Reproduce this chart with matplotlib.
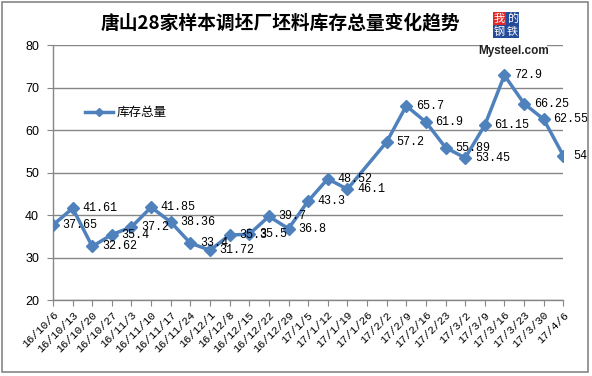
import numpy as np
import matplotlib.pyplot as plt
from matplotlib.patches import Rectangle

plt.rcParams['font.family'] = ['Noto Sans CJK SC', 'DejaVu Sans']

# data
dates = ['16/10/6', '16/10/13', '16/10/20', '16/10/27', '16/11/3', '16/11/10',
         '16/11/17', '16/11/24', '16/12/1', '16/12/8', '16/12/15', '16/12/22',
         '16/12/29', '17/1/5', '17/1/12', '17/1/19', '17/1/26', '17/2/2',
         '17/2/9', '17/2/16', '17/2/23', '17/3/2', '17/3/9', '17/3/16',
         '17/3/23', '17/3/30', '17/4/6']
stock = [37.65, 41.61, 32.62, 35.4, 37.2, 41.85, 38.36, 33.4, 31.72, 35.3,
         35.5, 39.7, 36.8, 43.3, 48.52, 46.1, None, 57.2, 65.7, 61.9, 55.89,
         53.45, 61.15, 72.9, 66.25, 62.55, 54]
label_txt = ['37.65', '41.61', '32.62', '35.4', '37.2', '41.85', '38.36', '33.4',
             '31.72', '35.3', '35.5', '39.7', '36.8', '43.3', '48.52', '46.1', '',
             '57.2', '65.7', '61.9', '55.89', '53.45', '61.15', '72.9', '66.25',
             '62.55', '54']
yticks = [20, 30, 40, 50, 60, 70, 80]

blue = '#4f81bd'
gray = '#868686'

fig = plt.figure(figsize=(5.92, 3.76), dpi=100)
fig.patches.append(Rectangle((0.003, 0.01), 0.99, 0.985, transform=fig.transFigure,
                             fill=False, edgecolor=gray, linewidth=1.2))

ax = fig.add_axes([0.0895, 0.202, 0.862, 0.678])

# keep the missing week out but connect the line across it
xs = [i for i, v in enumerate(stock) if v is not None]
ys = [v for v in stock if v is not None]
ax.plot(xs, ys, color=blue, linewidth=2.5, marker='D', markersize=6,
        markerfacecolor=blue, markeredgecolor=blue, label='库存总量', zorder=3)

for i, v in enumerate(stock):
    if v is None:
        continue
    ax.annotate(label_txt[i], (i, v), xytext=(7, 0), textcoords='offset points',
                va='center', ha='left', fontsize=8.5, family='Liberation Mono',
                color='black', zorder=4)

ax.set_xlim(0, len(dates) - 1)
ax.set_ylim(20, 80)
ax.set_yticks(yticks)
ax.set_xticks(range(len(dates)))
ax.set_xticklabels(dates, rotation=45, ha='right', rotation_mode='anchor',
                   fontsize=8, family='Liberation Mono')
ax.tick_params(axis='y', labelsize=9, length=4, color=gray, pad=6)
ax.tick_params(axis='x', length=4, color=gray, pad=3)
for t in ax.get_yticklabels():
    t.set_family('Liberation Sans')

ax.grid(axis='y', color=gray, linewidth=1)
ax.set_axisbelow(True)
for s in ['top', 'right']:
    ax.spines[s].set_visible(False)
for s in ['left', 'bottom']:
    ax.spines[s].set_color(gray)
    ax.spines[s].set_linewidth(1)

ax.legend(loc='center left', bbox_to_anchor=(0.125, 0.70), bbox_transform=fig.transFigure,
          frameon=False, fontsize=9, handlelength=2.2, handletextpad=0.3,
          markerscale=0.7)

fig.text(0.474, 0.94, '唐山28家样本调坯厂坯料库存总量变化趋势', ha='center', va='center',
         fontsize=13.5, fontweight='bold')

# logo
fig.patches.append(Rectangle((483 / 592, 1 - 66 / 376), 64 / 592, 58 / 376,
                             transform=fig.transFigure, facecolor='white',
                             edgecolor='none', zorder=5))
logo = [('我', 493, 12, '#e02a2a'), ('的', 506, 12, '#244a9a'),
        ('钢', 493, 25, '#244a9a'), ('铁', 506, 25, '#244a9a')]
for ch, px, py, c in logo:
    fig.patches.append(Rectangle((px / 592, 1 - (py + 13) / 376), 12.5 / 592, 13 / 376,
                                 transform=fig.transFigure, facecolor=c,
                                 edgecolor='none', zorder=6))
    fig.text((px + 6.25) / 592, 1 - (py + 6.5) / 376, ch, ha='center', va='center',
             fontsize=8, color='white', zorder=7)
fig.text(514 / 592, 1 - 51 / 376, 'Mysteel.com', ha='center', va='center',
         fontsize=8.5, fontweight='bold', family='Liberation Sans', color='#222222',
         zorder=7)

fig.savefig('out.png', dpi=100)
